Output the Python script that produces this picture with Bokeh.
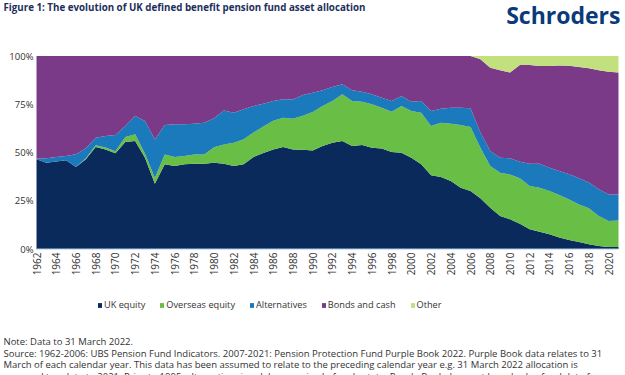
from bokeh.plotting import figure
from bokeh.models import ColumnDataSource, Range1d, Label, Legend, LegendItem
from bokeh.core.properties import value
from bokeh.embed import file_html
from bokeh.resources import INLINE
from math import pi

years = list(range(1962, 2022))

uk_equity = [46.5, 44.7, 45.3, 46.0, 42.5, 46.5, 52.8, 51.6, 49.6, 55.5,
             56.0, 47.3, 33.8, 43.9, 43.0, 43.9, 44.2, 44.2, 44.7, 44.2,
             43.0, 43.9, 47.7, 49.7, 51.6, 52.8, 51.6, 51.4, 51.1, 53.4,
             55.1, 56.0, 53.4, 53.9, 52.5, 52.1, 50.3, 49.9, 47.3, 43.9,
             38.2, 37.3, 35.2, 31.8, 30.0, 26.3, 21.4, 17.1, 15.4, 13.1,
             10.2, 9.0, 7.6, 5.9, 4.7, 3.6, 2.4, 1.6, 1.0, 1.0]
overseas_equity = [0, 0, 0, 0, 0, 0.5, 1.0, 1.0, 1.0, 2.5,
                   3.5, 2.0, 3.0, 5.0, 4.7, 4.3, 4.8, 4.8, 8.0, 10.0,
                   12.0, 13.0, 12.6, 13.8, 14.9, 15.2, 15.9, 17.6, 19.9, 20.7,
                   21.6, 24.2, 23.3, 22.4, 22.5, 21.1, 20.8, 24.2, 24.2, 26.7,
                   25.5, 28.1, 29.7, 32.4, 33.2, 26.2, 21.6, 22.4, 23.2, 23.5,
                   22.4, 22.8, 22.4, 22.1, 21.0, 19.5, 18.7, 15.5, 13.5, 13.8]
alternatives = [0.3, 2.3, 2.4, 2.2, 6.6, 5.2, 3.9, 5.9, 8.5, 5.7,
                9.4, 17.0, 20.0, 15.3, 16.9, 16.4, 15.9, 16.4, 15.0, 17.6,
                15.6, 15.5, 13.8, 11.8, 10.2, 9.6, 10.0, 10.8, 10.0, 8.1,
                7.2, 5.1, 5.5, 5.2, 5.2, 5.2, 5.6, 5.2, 4.8, 6.1,
                7.8, 7.3, 8.3, 9.0, 9.7, 7.8, 7.8, 7.8, 8.4, 8.6,
                11.6, 12.4, 12.1, 12.4, 13.0, 13.5, 13.3, 13.8, 13.8, 13.5]
bonds_and_cash = [53.2, 53.0, 52.3, 51.8, 50.9, 47.8, 42.3, 41.5, 40.9, 36.3,
                  31.1, 33.7, 43.2, 35.8, 35.4, 35.4, 35.1, 34.6, 32.3, 28.2,
                  29.4, 27.6, 25.9, 24.7, 23.3, 22.4, 22.5, 20.2, 19.0, 17.8,
                  16.1, 14.7, 17.8, 18.5, 19.8, 21.6, 23.3, 20.7, 23.7, 23.3,
                  28.5, 27.3, 26.8, 26.8, 27.1, 38.0, 43.1, 45.3, 44.4, 50.1,
                  51.1, 50.6, 52.7, 54.7, 56.3, 57.7, 59.2, 61.7, 63.6, 63.1]
other = [0, 0, 0, 0, 0, 0, 0, 0, 0, 0,
         0, 0, 0, 0, 0, 0, 0, 0, 0, 0,
         0, 0, 0, 0, 0, 0, 0, 0, 0, 0,
         0, 0, 0, 0, 0, 0, 0, 0, 0, 0,
         0, 0, 0, 0, 0, 1.7, 6.1, 7.4, 8.6, 4.7,
         4.7, 5.2, 5.2, 4.9, 5.0, 5.7, 6.4, 7.4, 8.1, 8.6]

series_keys = ["uk", "overseas", "alt", "bonds", "other"]
series_names = ["UK equity", "Overseas equity", "Alternatives", "Bonds and cash", "Other"]
colors = ["#0b2a5c", "#69be45", "#1b7abb", "#7b3a87", "#c3e07f"]
tick_years = [1962, 1964, 1966, 1968, 1970, 1972, 1974, 1976, 1978, 1980,
              1982, 1984, 1986, 1988, 1990, 1992, 1994, 1996, 1998, 2000,
              2002, 2004, 2006, 2008, 2010, 2012, 2014, 2016, 2018, 2020]
tick_year_labels = [str(y) for y in tick_years]
y_ticks = [0, 25, 50, 75, 100]
y_tick_labels = ["0%", "25%", "50%", "75%", "100%"]

title_text = "Figure 1: The evolution of UK defined benefit pension fund asset allocation"
logo_text = "Schroders"
note_lines = [
    "Note: Data to 31 March 2022.",
    "Source: 1962-2006: UBS Pension Fund Indicators. 2007-2021: Pension Protection Fund Purple Book 2022. Purple Book data relates to 31",
    "March of each calendar year. This data has been assumed to relate to the preceding calendar year e.g. 31 March 2022 allocation is",
    "assumed to relate to 2021.  Prior to 1995, alternatives is solely comprised of real estate. Purple Book does not have hedge fund data for",
]

FONT = "Open Sans"
W, H = 625, 375
# pixel layout of the plotting area
PX_LEFT, PX_RIGHT = 36.0, 618.0     # x pixel of first / last year
PY_ZERO, PY_HUNDRED = 248.5, 55.5   # y pixel of 0% / 100%

x_per_px = (years[-1] - years[0]) / (PX_RIGHT - PX_LEFT)
y_per_px = 100.0 / (PY_ZERO - PY_HUNDRED)
x_range = Range1d(years[0] - PX_LEFT * x_per_px, years[0] + (W - PX_LEFT) * x_per_px)
y_range = Range1d(-(H - PY_ZERO) * y_per_px, PY_ZERO * y_per_px)


def ydata(py):
    return (PY_ZERO - py) * y_per_px


def xdata(px):
    return years[0] + (px - PX_LEFT) * x_per_px


source = ColumnDataSource(dict(year=years, uk=uk_equity, overseas=overseas_equity,
                               alt=alternatives, bonds=bonds_and_cash, other=other))

p = figure(width=W, height=H, output_backend="svg", toolbar_location=None,
           x_range=x_range, y_range=y_range, min_border=0,
           x_axis_location=None, y_axis_location=None)
p.outline_line_color = None
p.background_fill_color = "white"
p.border_fill_color = "white"
p.xgrid.visible = False
p.ygrid.visible = False

renderers = p.varea_stack(stackers=series_keys, x="year", color=colors, source=source)

# baseline (axis line)
p.line(x=[years[0], years[-1]], y=[0, 0], line_color="#a9cbe4", line_width=1)

# x tick labels (vertical)
p.text(x=tick_years, y=[ydata(252)] * len(tick_years), text=tick_year_labels,
       angle=pi / 2, text_align="right", text_baseline="middle",
       text_font=value(FONT), text_font_size="10px", text_color="#333333")

# y tick labels
p.text(x=[xdata(33)] * len(y_ticks), y=y_ticks, text=y_tick_labels,
       text_align="right", text_baseline="middle",
       text_font=value(FONT), text_font_size="9.5px", text_color="#333333")

# legend
items = [LegendItem(label=n, renderers=[r]) for n, r in zip(series_names, renderers)]
legend = Legend(items=items, orientation="horizontal", location=(97, H - 311),
                glyph_width=5, glyph_height=6, label_standoff=2, spacing=14,
                padding=0, margin=0, border_line_color=None, background_fill_alpha=0,
                label_height=12, label_text_font=FONT, label_text_font_size="9.2px",
                label_text_color="#333333")
p.add_layout(legend)


def lab(text, px, py, size, color="#333333", bold=False, align="left"):
    p.add_layout(Label(x=px, y=H - py, x_units="screen", y_units="screen",
                       text=text, text_font=FONT, text_font_size=size,
                       text_font_style="bold" if bold else "normal",
                       text_color=color, text_align=align, text_baseline="middle"))


lab(title_text, 3, 7, "9.75px", color="#1c2f5c", bold=True)
lab(logo_text, 620, 14, "23px", color="#0a3a7a", bold=True, align="right")
for i, (line, py) in enumerate(zip(note_lines, [340.7, 352.7, 364.3, 376.0])):
    lab(line, 3, py, "9.5px")

open("out.html", "w").write(file_html(p, INLINE))
